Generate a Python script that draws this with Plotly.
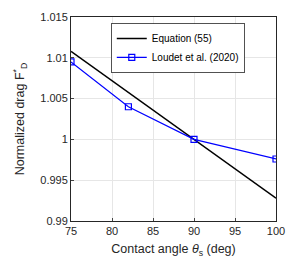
import plotly.graph_objects as go

eq_x = [75, 90, 100]
eq_y = [1.0108, 1.0, 0.9928]
lou_x = [75, 82, 90, 100]
lou_y = [1.0095, 1.004, 1.0, 0.9976]
x_ticks = [75, 80, 85, 90, 95, 100]
y_ticks = [0.99, 0.995, 1.0, 1.005, 1.01, 1.015]
y_labels = ["0.99", "0.995", "1", "1.005", "1.01", "1.015"]

fig = go.Figure()
fig.add_trace(go.Scatter(x=eq_x, y=eq_y, mode="lines", name="Equation (55)",
                         line=dict(color="black", width=1.5)))
fig.add_trace(go.Scatter(x=lou_x, y=lou_y, mode="lines+markers", name="Loudet et al. (2020)",
                         line=dict(color="#0000ff", width=1.2),
                         marker=dict(symbol="square-open", size=6, color="#0000ff", line=dict(width=1.2))))

font = dict(family="Liberation Sans, Arial, sans-serif", size=11, color="#262626")
tfont = dict(family="Liberation Sans, Arial, sans-serif", size=12.5, color="#262626")
fig.update_layout(
    width=305, height=271,
    margin=dict(l=71, r=29, t=17, b=50),
    paper_bgcolor="white", plot_bgcolor="white",
    font=font,
    showlegend=True,
    legend=dict(x=0.195, y=0.97, xanchor="left", yanchor="top",
                bgcolor="white", bordercolor="#262626", borderwidth=0.8,
                font=dict(family="Liberation Sans, Arial, sans-serif", size=10, color="#000000"),
                tracegroupgap=0, itemwidth=30),
    xaxis=dict(range=[75, 100], tickvals=x_ticks, ticks="inside", ticklen=3,
               showgrid=True, gridcolor="#e6e6e6", gridwidth=1,
               showline=True, linecolor="#262626", linewidth=1, mirror=True,
               zeroline=False, tickfont=font,
               title=dict(text="Contact angle <i>θ</i><sub>s</sub> (deg)", standoff=8, font=tfont)),
    yaxis=dict(range=[0.99, 1.015], tickvals=y_ticks, ticktext=y_labels, ticks="inside", ticklen=3,
               showgrid=True, gridcolor="#e6e6e6", gridwidth=1,
               showline=True, linecolor="#262626", linewidth=1, mirror=True,
               zeroline=False, tickfont=font,
               title=dict(text="Normalized drag F<sup>*</sup><sub>D</sub>", standoff=12, font=tfont)),
)
fig.write_html("out.html", config={"displayModeBar": False},
               post_script="document.body.style.margin='0';")
